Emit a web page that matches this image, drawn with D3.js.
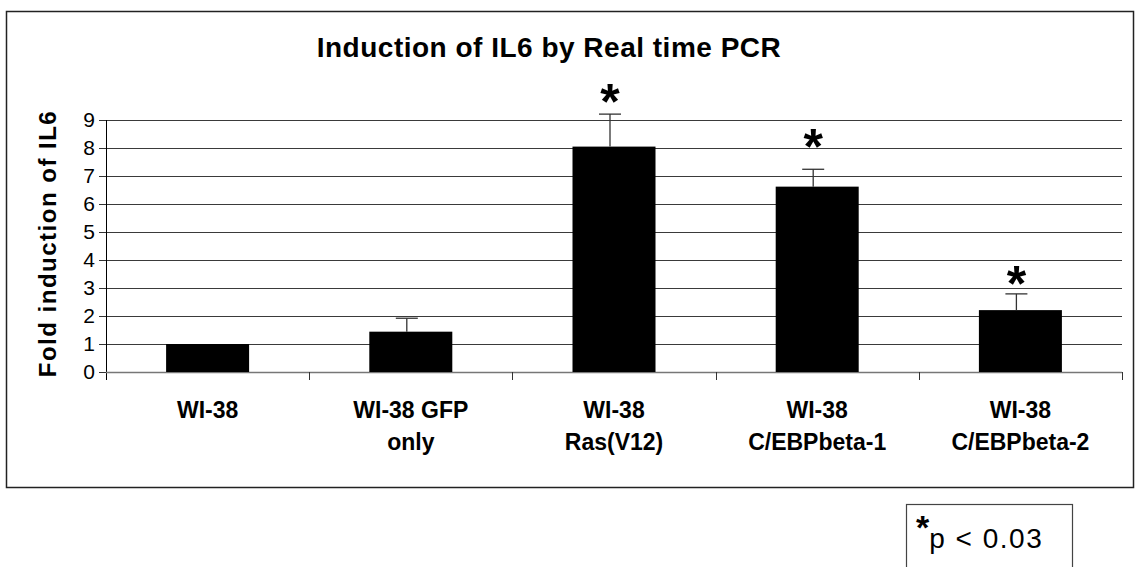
<!DOCTYPE html>
<html>
<head>
<meta charset="utf-8">
<script src="https://cdn.jsdelivr.net/npm/d3@7"></script>
<style>
  html, body { margin: 0; padding: 0; background: #fff; }
  svg { display: block; font-family: "Liberation Sans", Arial, sans-serif; }
</style>
</head>
<body>
<div id="chart"></div>
<script>
// ── data
const categories = ['WI-38', 'WI-38 GFP only', 'WI-38 Ras(V12)', 'WI-38 C/EBPbeta-1', 'WI-38 C/EBPbeta-2'];
const labelLines = [['WI-38'], ['WI-38 GFP', 'only'], ['WI-38', 'Ras(V12)'], ['WI-38', 'C/EBPbeta-1'], ['WI-38', 'C/EBPbeta-2']];
const foldValues = [1.0, 1.44, 8.05, 6.62, 2.21];
const errorTops  = [null, 1.92, 9.21, 7.24, 2.79];
// asterisk markers (value level where each star sits; null = not significant)
const starLevels = [null, null, 10.07, 8.45, 3.58];
const yTicks = [0, 1, 2, 3, 4, 5, 6, 7, 8, 9];

const W = 1139, H = 567;
const plot = { left: 106, right: 1122, top: 120, bottom: 372 };

const svg = d3.select('#chart')
  .append('svg')
    .attr('width', W)
    .attr('height', H);

// outer chart frame
svg.append('rect')
  .attr('x', 6.5).attr('y', 11.5)
  .attr('width', 1127).attr('height', 476)
  .attr('fill', 'none')
  .attr('stroke', '#222')
  .attr('stroke-width', 1.5);

const x = d3.scaleBand()
  .domain(categories)
  .range([plot.left, plot.right])
  .padding(0);

const y = d3.scaleLinear()
  .domain([0, 9])
  .range([plot.bottom, plot.top]);

// gridlines
svg.append('g')
  .attr('class', 'grid')
  .attr('transform', `translate(${plot.left},0)`)
  .call(d3.axisLeft(y).tickValues(yTicks.slice(1)).tickSize(-(plot.right - plot.left)).tickFormat(''))
  .call(g => g.select('.domain').remove())
  .call(g => g.selectAll('.tick line').attr('stroke', '#3a3a3a').attr('stroke-width', 1));

// y axis
svg.append('g')
  .attr('class', 'axis axis--y')
  .attr('transform', `translate(${plot.left},0)`)
  .call(d3.axisLeft(y).tickValues(yTicks).tickSize(7).tickPadding(4).tickSizeOuter(0))
  .call(g => g.select('.domain').attr('stroke', '#000').attr('d', `M0.5,${plot.top}V${plot.bottom + 8}`))
  .call(g => g.selectAll('.tick line').attr('stroke', '#333'))
  .call(g => g.selectAll('.tick text')
    .attr('font-size', '21px')
    .attr('font-family', '"Liberation Sans", Arial, sans-serif')
    .attr('fill', '#000'));

// x axis line + boundary ticks
svg.append('line')
  .attr('x1', plot.left).attr('x2', plot.right)
  .attr('y1', plot.bottom + 0.5).attr('y2', plot.bottom + 0.5)
  .attr('stroke', '#777').attr('stroke-width', 1.5);

const bounds = categories.map(c => x(c)).concat([x(categories[categories.length - 1]) + x.bandwidth()]);
svg.append('g')
  .selectAll('line')
  .data(bounds.slice(1))
  .enter()
  .append('line')
    .attr('x1', d => Math.round(d) + 0.5).attr('x2', d => Math.round(d) + 0.5)
    .attr('y1', plot.bottom).attr('y2', plot.bottom + 8)
    .attr('stroke', '#333');

// bars
const barW = 83;
const cx = c => x(c) + x.bandwidth() / 2;

svg.append('g')
  .attr('class', 'bars')
  .selectAll('rect')
  .data(categories)
  .enter()
  .append('rect')
    .attr('x', c => cx(c) - barW / 2)
    .attr('y', (c, i) => y(foldValues[i]))
    .attr('width', barW)
    .attr('height', (c, i) => y(0) - y(foldValues[i]))
    .attr('fill', '#000');

// error bars (upper only, drawn a little left of bar centre as in the source)
const errShift = -4, capHalf = 11;
const errData = categories.map((c, i) => ({ c, v: foldValues[i], e: errorTops[i] })).filter(d => d.e != null);
const eb = svg.append('g').attr('class', 'errors');
eb.selectAll('.stem')
  .data(errData)
  .enter()
  .append('line')
    .attr('x1', d => cx(d.c) + errShift).attr('x2', d => cx(d.c) + errShift)
    .attr('y1', d => y(d.v)).attr('y2', d => y(d.e))
    .attr('stroke', '#333').attr('stroke-width', 1.3);
eb.selectAll('.cap')
  .data(errData)
  .enter()
  .append('line')
    .attr('x1', d => cx(d.c) + errShift - capHalf).attr('x2', d => cx(d.c) + errShift + capHalf)
    .attr('y1', d => y(d.e)).attr('y2', d => y(d.e))
    .attr('stroke', '#333').attr('stroke-width', 1.3);

// significance asterisks
const starSize = 50;
svg.append('g')
  .selectAll('text')
  .data(categories.map((c, i) => ({ c, s: starLevels[i] })).filter(d => d.s != null))
  .enter()
  .append('text')
    .attr('x', d => cx(d.c) + errShift)
    .attr('y', d => y(d.s) + 0.58 * starSize)
    .attr('text-anchor', 'middle')
    .attr('font-size', starSize + 'px')
    .attr('font-weight', 'bold')
    .text('*');

// category labels
const lbl = svg.append('g')
  .selectAll('text')
  .data(categories)
  .enter()
  .append('text')
    .attr('text-anchor', 'middle')
    .attr('font-size', '23px')
    .attr('font-weight', 'bold')
    .attr('fill', '#000');
lbl.each(function (c, i) {
  labelLines[i].forEach((line, k) => {
    d3.select(this).append('tspan')
      .attr('x', cx(c))
      .attr('y', 418 + k * 31.5)
      .text(line);
  });
});

// title
svg.append('text')
  .attr('x', 549)
  .attr('y', 57)
  .attr('text-anchor', 'middle')
  .attr('font-size', '28px')
  .attr('font-weight', 'bold')
  .attr('letter-spacing', '0.5px')
  .text('Induction of IL6 by Real time PCR');

// y axis title
svg.append('text')
  .attr('transform', `translate(56,${(107 + 380) / 2}) rotate(-90)`)
  .attr('text-anchor', 'middle')
  .attr('font-size', '24px')
  .attr('font-weight', 'bold')
  .attr('letter-spacing', '1.5px')
  .text('Fold induction of IL6');

// p-value note box
svg.append('rect')
  .attr('x', 906.5).attr('y', 504.5)
  .attr('width', 166).attr('height', 80)
  .attr('fill', 'none')
  .attr('stroke', '#444')
  .attr('stroke-width', 1.2);

const note = svg.append('text')
  .attr('x', 916)
  .attr('y', 548)
  .attr('font-size', '28px');
note.append('tspan')
  .attr('font-size', '34px')
  .attr('font-weight', 'bold')
  .attr('dy', '-9')
  .text('*');
note.append('tspan')
  .attr('dy', '9')
  .attr('letter-spacing', '1.5px')
  .text('p < 0.03');
</script>
</body>
</html>
